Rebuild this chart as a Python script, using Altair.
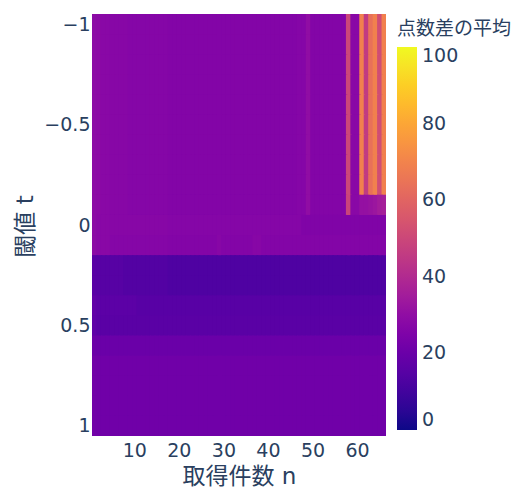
import altair as alt
import pandas as pd

# 取得件数 n (columns) and 閾値 t (rows)
n_values = list(range(1, 67))
t_values = [-1.0, -0.9, -0.8, -0.7, -0.6, -0.5, -0.4, -0.3, -0.2, -0.1,
            0.0, 0.1, 0.2, 0.3, 0.4, 0.5, 0.6, 0.7, 0.8, 0.9, 1.0]

# 点数差の平均, one profile (n = 1..66) per distinct row
row_upper = ([29, 28.5, 28, 28] + [27.5] * 4 + [27] * 9 + [26.5] * 29 +
             [27, 27, 30] + [26.5] * 8 + [50, 28, 28, 69, 46, 64, 69, 52, 69])
row_m01 = ([29, 28.5, 28, 28] + [27.5] * 4 + [27] * 9 + [26.5] * 29 +
           [27, 27, 30] + [26.5] * 8 + [49, 28, 28, 31, 31, 32, 33, 35, 36])
row_00 = [29] + [28] * 3 + [27.5] * 13 + [27] * 30 + [25.5] * 19
row_01 = ([29] + [28] * 3 + [27] * 13 + [26.5] * 11 + [27.5] + [26.5] * 7 +
          [27.5, 27.5] + [26.5] * 28)
row_02 = [16] + [15] * 6 + [14] * 10 + [13] * 49
row_03 = [16] + [15] * 6 + [14] * 10 + [13] * 49
row_04 = [18] + [16.5] * 9 + [15.5] * 56
row_05 = [17.5] + [16] * 65
row_06 = [20.5] + [20] * 65
row_lower = [22] + [21.5] * 65

rows_by_t = {
    -1.0: row_upper, -0.9: row_upper, -0.8: row_upper, -0.7: row_upper,
    -0.6: row_upper, -0.5: row_upper, -0.4: row_upper, -0.3: row_upper,
    -0.2: row_upper, -0.1: row_m01, 0.0: row_00, 0.1: row_01,
    0.2: row_02, 0.3: row_03, 0.4: row_04, 0.5: row_05, 0.6: row_06,
    0.7: row_lower, 0.8: row_lower, 0.9: row_lower, 1.0: row_lower,
}

# each cell spans its n and t step; it reaches a little into the next cell,
# which is drawn after it and covers that part, so no hairline seams show
records = []
for t in t_values:
    for n, v in zip(n_values, rows_by_t[t]):
        records.append({"n0": n - 0.5, "n1": n + 0.8,
                        "t0": round(t - 0.05, 3), "t1": round(t + 0.065, 3),
                        "value": v})
df = pd.DataFrame(records)

FONT = "DejaVu Sans, Noto Sans CJK JP, sans-serif"
TXT = "#2a3f5f"

chart = alt.Chart(df).mark_rect(clip=True).encode(
    x=alt.X("n0:Q",
            scale=alt.Scale(domain=[0.5, 66.5], nice=False, zero=False),
            axis=alt.Axis(values=[10, 20, 30, 40, 50, 60], title="取得件数 n",
                          grid=False, ticks=False, tickSize=0, domain=False,
                          labelFontSize=19, labelColor=TXT, labelFont=FONT,
                          labelPadding=14, labelBaseline="middle",
                          titleFontSize=23, titleColor=TXT, titleFont=FONT,
                          titleFontWeight="normal", titleY=40,
                          titleBaseline="middle")),
    x2="n1:Q",
    y=alt.Y("t0:Q",
            scale=alt.Scale(domain=[-1.05, 1.05], reverse=True, nice=False, zero=False),
            axis=alt.Axis(values=[-1, -0.5, 0, 0.5, 1], title="閾値 t",
                          labelExpr="replace(format(datum.value, '~g'), '-', '−')",
                          grid=False, ticks=False, tickSize=0, domain=False,
                          labelFontSize=19, labelColor=TXT, labelFont=FONT,
                          labelPadding=2,
                          titleFontSize=23, titleColor=TXT, titleFont=FONT,
                          titleFontWeight="normal", titleX=-67, titleY=212,
                          titleAngle=270, titleBaseline="middle",
                          titleAlign="center")),
    y2="t1:Q",
    color=alt.Color("value:Q", scale=alt.Scale(scheme="plasma", domain=[0, 100]),
                    legend=alt.Legend(title="点数差の平均", orient="none",
                                      legendX=305, legendY=6,
                                      direction="vertical", type="gradient",
                                      gradientLength=383, gradientThickness=20,
                                      gradientStrokeWidth=0,
                                      values=[0, 20, 40, 60, 80, 100],
                                      labelOverlap=False,
                                      labelFontSize=19, labelColor=TXT,
                                      labelFont=FONT, labelOffset=5,
                                      titleFontSize=19, titleColor=TXT,
                                      titleFont=FONT, titleFontWeight="normal",
                                      titlePadding=8, padding=0)),
).properties(
    width=294,
    height=422,
    autosize=alt.AutoSizeParams(type="none"),
    padding={"left": 92, "top": 14, "right": 131, "bottom": 53},
    background="white",
).configure_view(stroke=None)

chart.save("out.html", embed_options={"renderer": "svg", "actions": False})
